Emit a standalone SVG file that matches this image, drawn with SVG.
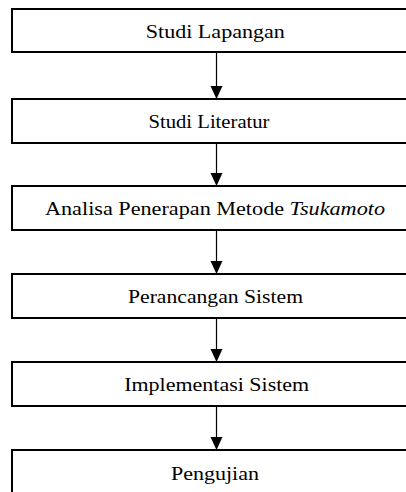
<svg xmlns="http://www.w3.org/2000/svg" width="406" height="492" viewBox="0 0 406 492">
<style>
.box{fill:#fff;stroke:#000;stroke-width:2}
.lbl{font-family:"Liberation Serif","Times New Roman",serif;font-size:19px;fill:#000;text-anchor:middle}
.con{stroke:#000;stroke-width:1.2;fill:none}
.head{fill:#000}
</style>
<rect width="406" height="492" fill="#fff"/>
<g id="connectors">
<path class="con" d="M216.5,52 V88"/>
<path class="con" d="M216.5,143 V175"/>
<path class="con" d="M216.5,230 V263"/>
<path class="con" d="M216.5,318 V351"/>
<path class="con" d="M216.5,406 V439"/>
<path class="head" d="M210.5,86 L222.5,86 L216.5,99 Z"/>
<path class="head" d="M210.5,173 L222.5,173 L216.5,186 Z"/>
<path class="head" d="M210.5,261 L222.5,261 L216.5,274 Z"/>
<path class="head" d="M210.5,349 L222.5,349 L216.5,362 Z"/>
<path class="head" d="M210.5,437 L222.5,437 L216.5,450 Z"/>
</g>
<g id="n1"><rect class="box" x="12" y="9" width="400" height="43"/><text class="lbl" x="215.3" y="37.5" textLength="139" lengthAdjust="spacingAndGlyphs">Studi Lapangan</text></g>
<g id="n2"><rect class="box" x="12" y="99" width="400" height="44"/><text class="lbl" x="209" y="128" textLength="121" lengthAdjust="spacingAndGlyphs">Studi Literatur</text></g>
<g id="n3"><rect class="box" x="12" y="186" width="400" height="44"/><text class="lbl" x="215" y="215" textLength="340" lengthAdjust="spacingAndGlyphs">Analisa Penerapan Metode <tspan font-style="italic">Tsukamoto</tspan></text></g>
<g id="n4"><rect class="box" x="12" y="274" width="400" height="44"/><text class="lbl" x="215.5" y="303" textLength="175" lengthAdjust="spacingAndGlyphs">Perancangan Sistem</text></g>
<g id="n5"><rect class="box" x="12" y="362" width="400" height="44"/><text class="lbl" x="216.7" y="391" textLength="185" lengthAdjust="spacingAndGlyphs">Implementasi Sistem</text></g>
<g id="n6"><rect class="box" x="12" y="450" width="400" height="60"/><text class="lbl" x="215" y="479.5" textLength="88" lengthAdjust="spacingAndGlyphs">Pengujian</text></g>
</svg>
